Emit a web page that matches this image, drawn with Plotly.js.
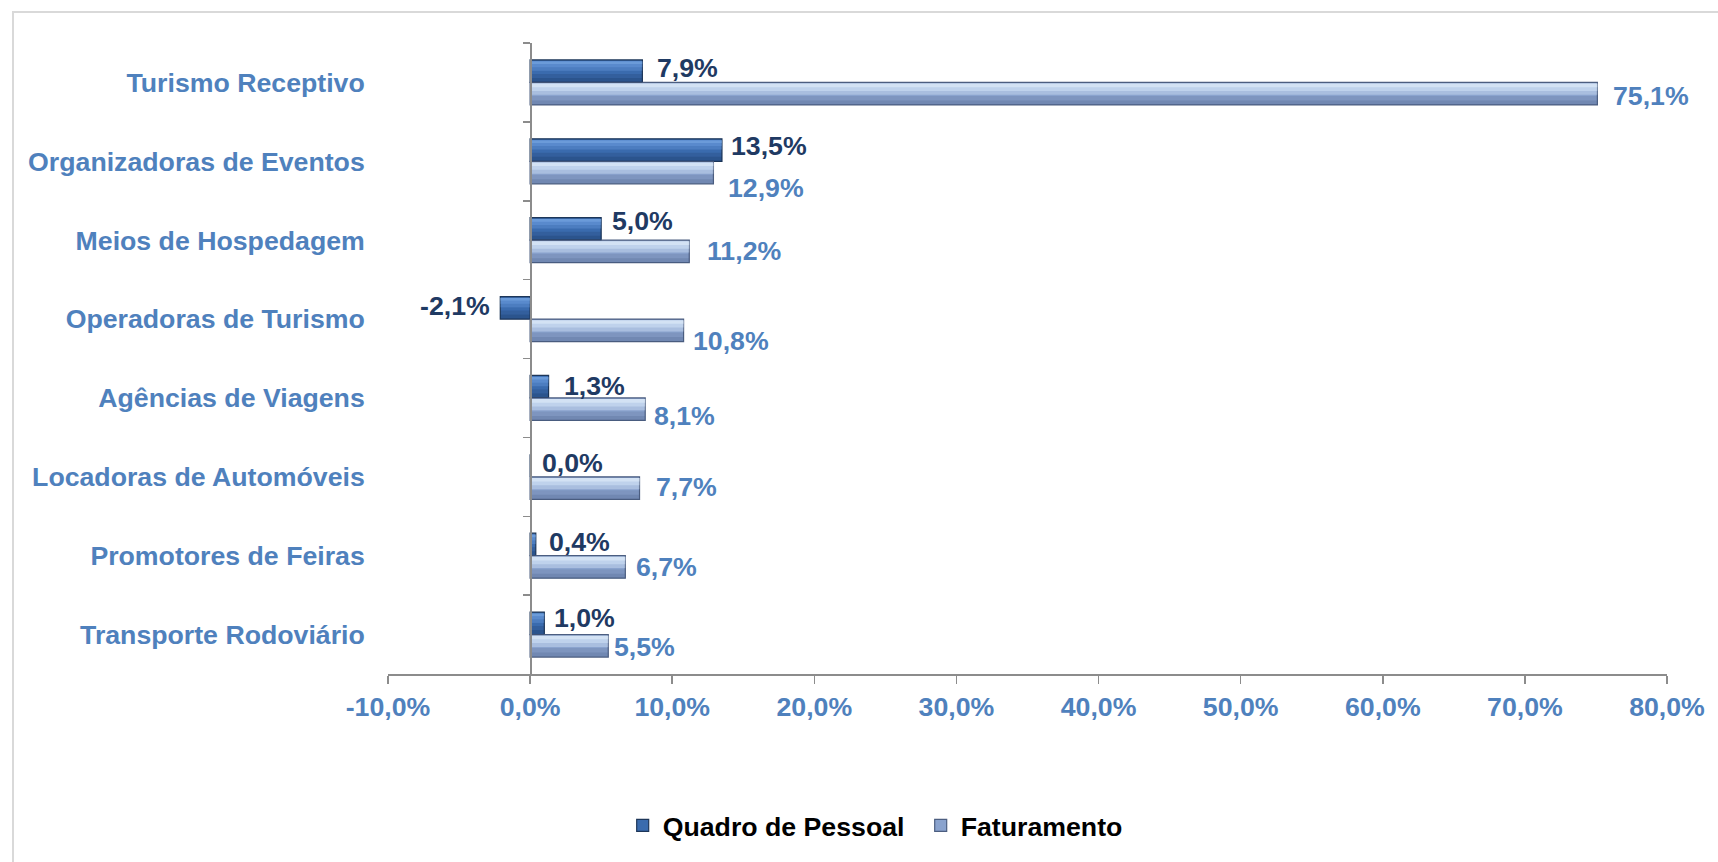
<!DOCTYPE html>
<html>
<head>
<meta charset="utf-8">
<script src="https://cdn.plot.ly/plotly-3.0.1.min.js"></script>
<style>
  html, body { margin: 0; padding: 0; background: #ffffff; overflow: hidden; }
  #wrap { position: relative; width: 1718px; height: 862px; }
  #chart { position: absolute; left: 0; top: 0; width: 1718px; height: 862px; }
  #frame { position: absolute; left: 12px; top: 11px; width: 1720px; height: 870px;
           border-left: 2px solid #D9D9D9; border-top: 2px solid #D9D9D9; pointer-events: none; }
</style>
</head>
<body>
<div id="wrap">
  <div id="chart"></div>
  <div id="frame"></div>
</div>
<script>
// ---- data (top-to-bottom order as in the chart) ----
const categories = [
  'Turismo Receptivo',
  'Organizadoras de Eventos',
  'Meios de Hospedagem',
  'Operadoras de Turismo',
  'Agências de Viagens',
  'Locadoras de Automóveis',
  'Promotores de Feiras',
  'Transporte Rodoviário'
];
const quadroPessoal = [7.9, 13.5, 5.0, -2.1, 1.3, 0.0, 0.4, 1.0];
const faturamento   = [75.1, 12.9, 11.2, 10.8, 8.1, 7.7, 6.7, 5.5];
const seriesNames = ['Quadro de Pessoal', 'Faturamento'];
const xRange = [-10, 80];
const xTickVals = [-10, 0, 10, 20, 30, 40, 50, 60, 70, 80];
const xTickText = ['-10,0%', '0,0%', '10,0%', '20,0%', '30,0%', '40,0%', '50,0%', '60,0%', '70,0%', '80,0%'];

// ---- label nudges (style, px): horizontal gap from bar end, vertical drop ----
const quadroLabelGap = [13.7, 8.8, 10.5, 10, 15, 11.6, 12.6, 9.3];
const quadroLabelDrop = [-3, -4.5, -8, -1.5, -1, -2.6, -2, -5];
const fatLabelGap = [15.5, 14, 17.6, 8.8, 8, 16, 10, 5];
const fatLabelDrop = [2, 15, 0, 10.7, 6.5, -1, 0, 1];

// ---- style ----
const FONT = '"Liberation Sans", Arial, sans-serif';
const FS = 26.7;
const W = 1718, H = 862;
const M = { l: 388, r: 51, t: 43, b: 185 };
const BARGAP = 0.43;
const BW = (1 - BARGAP) / 2;            // bar thickness in category units
const fmt = v => v.toFixed(1).replace('.', ',') + '%';

const plotH = H - M.t - M.b;
const band = plotH / categories.length;
const barPx = band * BW;

function barTrace(vals, name, offset, width, color, line, legend) {
  return {
    type: 'bar', orientation: 'h', name: name,
    y: categories, x: vals, offset: offset, width: width,
    marker: { color: color, line: line || { width: 0 } },
    showlegend: !!legend, hoverinfo: 'skip'
  };
}

// soft bevel shading layers: [start fraction from bar top, thickness fraction, colour]
const quadroShade = [
  [0.06, 0.42, 'rgba(120,170,235,0.30)'],
  [0.06, 0.26, 'rgba(120,170,235,0.30)'],
  [0.06, 0.12, 'rgba(140,185,240,0.35)'],
  [0.62, 0.38, 'rgba(20,45,85,0.18)'],
  [0.80, 0.20, 'rgba(20,45,85,0.22)']
];
const fatShade = [
  [0.05, 0.50, 'rgba(225,240,255,0.35)'],
  [0.05, 0.33, 'rgba(225,240,255,0.40)'],
  [0.05, 0.16, 'rgba(235,246,255,0.45)'],
  [0.60, 0.40, 'rgba(70,90,130,0.18)'],
  [0.80, 0.20, 'rgba(70,90,130,0.22)']
];

const traces = [
  barTrace(quadroPessoal, seriesNames[0], -BW, BW, '#3A6BAE', { color: '#1D3658', width: 1.2 }, true),
  barTrace(faturamento, seriesNames[1], 0, BW, '#8AA3CE', { color: '#4C5E80', width: 1.2 }, true)
];
quadroShade.forEach(s => traces.push(barTrace(quadroPessoal, seriesNames[0], -BW + s[0] * BW, s[1] * BW, s[2])));
fatShade.forEach(s => traces.push(barTrace(faturamento, seriesNames[1], s[0] * BW, s[1] * BW, s[2])));

const annotations = [];
quadroPessoal.forEach((v, i) => {
  const neg = v < 0;
  annotations.push({
    x: v, y: categories[i], xref: 'x', yref: 'y',
    text: fmt(v), showarrow: false,
    xanchor: neg ? 'right' : 'left', yanchor: 'middle',
    xshift: (neg ? -1 : 1) * (quadroLabelGap[i] + 0.5),
    yshift: barPx / 2 - quadroLabelDrop[i],
    font: { family: FONT, size: FS, color: '#1F3A63', weight: 'bold' },
    borderpad: 0, borderwidth: 0
  });
});
faturamento.forEach((v, i) => {
  annotations.push({
    x: v, y: categories[i], xref: 'x', yref: 'y',
    text: fmt(v), showarrow: false,
    xanchor: 'left', yanchor: 'middle',
    xshift: fatLabelGap[i] + 0.5,
    yshift: -barPx / 2 - fatLabelDrop[i],
    font: { family: FONT, size: FS, color: '#4F81BD', weight: 'bold' },
    borderpad: 0, borderwidth: 0
  });
});

const layout = {
  width: W, height: H,
  margin: M,
  paper_bgcolor: '#ffffff', plot_bgcolor: 'rgba(0,0,0,0)',
  font: { family: FONT, size: FS, color: '#000000' },
  barmode: 'overlay',
  showlegend: true,
  legend: {
    orientation: 'h', x: 0.1835, xanchor: 'left', y: -0.24, yanchor: 'middle',
    font: { family: FONT, size: FS, color: '#000000', weight: 'bold' },
    entrywidth: 253, entrywidthmode: 'pixels',
    bgcolor: 'rgba(0,0,0,0)'
  },
  xaxis: {
    range: xRange, tickmode: 'array', tickvals: xTickVals, ticktext: xTickText,
    showgrid: false, zeroline: false,
    showline: true, linecolor: '#8C8C8C', linewidth: 2,
    ticks: 'outside', ticklen: 8, tickwidth: 1.5, tickcolor: '#8C8C8C',
    tickfont: { family: FONT, size: FS, color: '#4F81BD', weight: 'bold' },
    ticklabelstandoff: 0,
    fixedrange: true
  },
  yaxis: {
    type: 'category', categoryorder: 'array', categoryarray: categories,
    range: [categories.length - 0.5, -0.5],
    anchor: 'free', position: (0 - xRange[0]) / (xRange[1] - xRange[0]),
    showgrid: false, zeroline: false,
    showline: true, linecolor: '#8C8C8C', linewidth: 1.5,
    ticks: 'outside', tickson: 'boundaries', ticklen: 7, tickwidth: 1.5, tickcolor: '#8C8C8C',
    tickfont: { family: FONT, size: FS, color: '#4F81BD', weight: 'bold' },
    ticklabelstandoff: 160,
    fixedrange: true
  },
  annotations: annotations
};

Plotly.newPlot('chart', traces, layout, { displayModeBar: false, staticPlot: true });
</script>
</body>
</html>
